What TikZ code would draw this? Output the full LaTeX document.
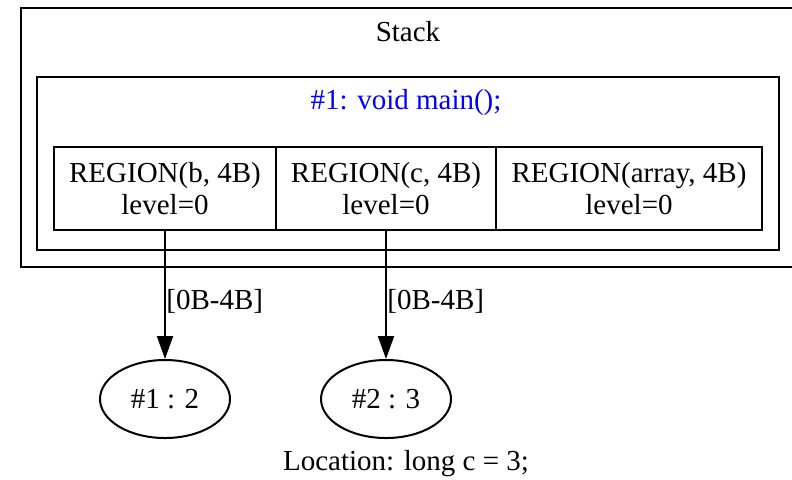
\documentclass[tikz,border=0pt]{standalone}
\usepackage{fontspec}
\setmainfont{Liberation Serif}
\usetikzlibrary{arrows.meta,shapes.geometric}
\tikzset{
  lbl/.style={font=\fontsize{14.5pt}{16pt}\selectfont, inner sep=0pt},
  cell/.style={draw, line width=1pt, minimum height=41.5pt, inner sep=0pt, align=center,
               font=\fontsize{14.5pt}{16pt}\selectfont},
  state/.style={draw, ellipse, line width=1pt, minimum width=65pt, minimum height=39pt,
                inner sep=0pt, font=\fontsize{14.5pt}{16pt}\selectfont},
  edge/.style={line width=1pt, -{Triangle[length=11.5pt,width=8pt]}},
  frame/.style={draw, line width=1pt}
}
\begin{document}
\begin{tikzpicture}[x=0.5pt, y=-0.5pt]
  \useasboundingbox (0,0) rectangle (792,479);
  \clip (0,0) rectangle (792,479);
  % stack frame and function frame
  \draw[frame] (21,8) rectangle (810,267);
  \node[lbl] (stacktitle) at (408,32) {Stack};
  \draw[frame] (37,77) rectangle (779,250);
  \node[lbl, text=blue] (fn) at (406,103) {\#1: void main();};
  % region record
  \node[cell, minimum width=111pt] (b) at (165,188.5) {REGION(b, 4B)\\level=0};
  \node[cell, minimum width=110pt] (c) at (386,188.5) {REGION(c, 4B)\\level=0};
  \node[cell, minimum width=133pt] (arr) at (629,188.5) {REGION(array, 4B)\\level=0};
  % values
  \node[state] (v1) at (165,399) {\#1 : 2};
  \node[state] (v2) at (386,399) {\#2 : 3};
  \draw[edge] (b.south) -- (v1.north);
  \draw[edge] (c.south) -- (v2.north);
  \node[lbl, anchor=west] (l1) at (166,301) {[0B-4B]};
  \node[lbl, anchor=west] (l2) at (387,301) {[0B-4B]};
  \node[lbl] (loc) at (406,464) {Location: long c = 3;};
\end{tikzpicture}
\end{document}
